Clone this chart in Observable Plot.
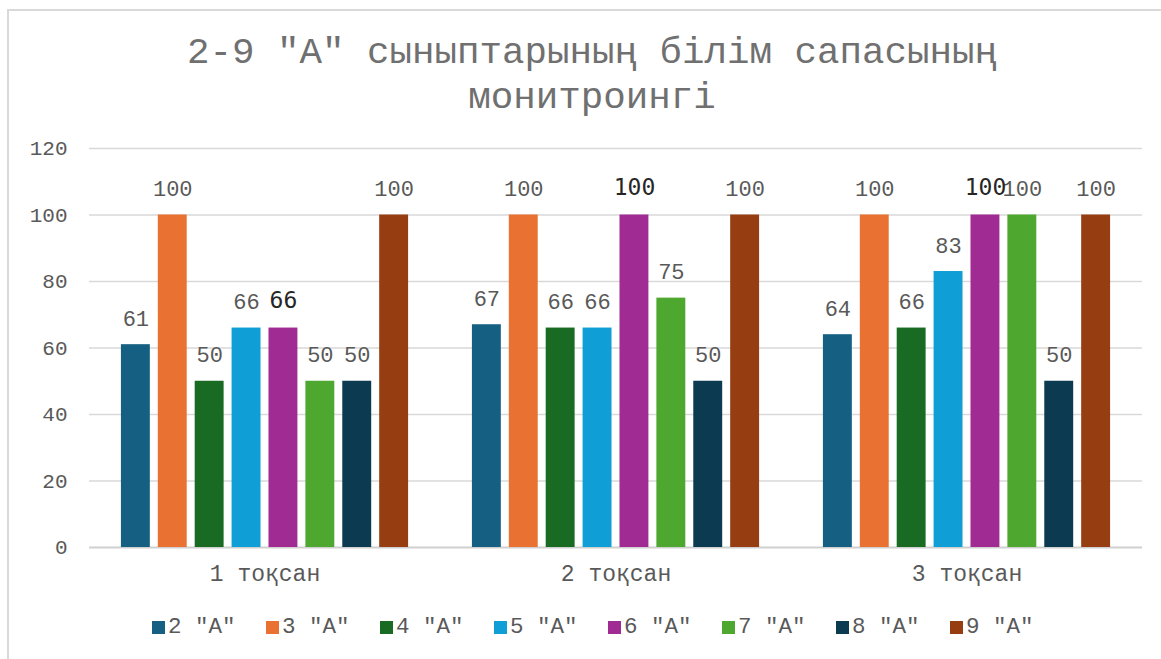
<!DOCTYPE html>
<html>
<head>
<meta charset="utf-8">
<script src="https://cdn.jsdelivr.net/npm/d3@7"></script>
<script src="https://cdn.jsdelivr.net/npm/@observablehq/plot@0.6"></script>
<style>
  html, body { margin: 0; padding: 0; background: #fff; }
  #wrap { position: relative; width: 1161px; height: 659px; overflow: hidden; font-family: "Liberation Mono", "DejaVu Sans Mono", monospace; }
  #border { position: absolute; left: 7px; top: 9px; width: 1200px; height: 700px; border: 2px solid #d9d9d9; box-sizing: border-box; }
  #title { position: absolute; left: 8px; width: 1168px; top: 31px; text-align: center; color: #707070; font-size: 37.5px; line-height: 45px; }
  .layer { position: absolute; left: 0; top: 0; }
  #legend { position: absolute; left: 152px; top: 616px; display: flex; color: #595959; font-size: 22.5px; line-height: 22px; }
  .item { display: flex; align-items: center; width: 114px; white-space: pre; }
  .sw { width: 13px; height: 13px; margin-right: 3px; flex: none; }
</style>
</head>
<body>
<div id="wrap">
  <div id="border"></div>
  <div id="title">2-9 "А" сыныптарының білім сапасының<br>монитроингі</div>
  <div id="grid" class="layer"></div>
  <div id="chart" class="layer"></div>
  <div id="legend"></div>
</div>
<script>
const quarters = ["1 тоқсан", "2 тоқсан", "3 тоқсан"];
const series = ['2 "А"', '3 "А"', '4 "А"', '5 "А"', '6 "А"', '7 "А"', '8 "А"', '9 "А"'];
const colors = ["#156082", "#E97132", "#196B24", "#0F9ED5", "#A02B93", "#4EA72E", "#0C3A50", "#963E11"];
const v2 = [61, 67, 64];
const v3 = [100, 100, 100];
const v4 = [50, 66, 66];
const v5 = [66, 66, 83];
const v6 = [66, 100, 100];
const v7 = [50, 75, 100];
const v8 = [50, 50, 50];
const v9 = [100, 100, 100];
const yTicks = [0, 20, 40, 60, 80, 100, 120];

const valueSets = [v2, v3, v4, v5, v6, v7, v8, v9];
const data = [];
quarters.forEach((q, qi) => {
  series.forEach((s, si) => {
    data.push({quarter: q, series: s, value: valueSets[si][qi]});
  });
});

const special = '6 "А"';
const dims = {width: 1161, height: 610, marginTop: 148, marginBottom: 63, marginLeft: 89, marginRight: 19};
const baseStyle = {fontFamily: '"Liberation Mono", monospace', color: "#595959", background: "transparent", overflow: "visible"};

// Layer 1: gridlines and y axis spanning the whole plot width
const grid = Plot.plot({
  ...dims,
  style: baseStyle,
  x: {domain: quarters, axis: null},
  y: {domain: [0, 120], axis: null},
  marks: [
    Plot.ruleY(yTicks.filter(d => d > 0), {stroke: "#d9d9d9", strokeWidth: 1.5}),
    Plot.ruleY([0], {stroke: "#d0d0d0", strokeWidth: 2}),
    Plot.axisY({ticks: yTicks, tickSize: 0, tickPadding: 22, fontSize: 21, fill: "#595959", label: null})
  ]
});
document.getElementById("grid").appendChild(grid);

// Layer 2: grouped bars
const chart = Plot.plot({
  ...dims,
  style: baseStyle,
  fx: {domain: quarters, paddingInner: 64/352, paddingOuter: 32/352, round: false, label: null},
  x: {domain: series, paddingInner: 8/37, paddingOuter: 0, round: false, axis: null},
  y: {domain: [0, 120], axis: null},
  color: {domain: series, range: colors},
  marks: [
    Plot.barY(data, {fx: "quarter", x: "series", y: "value", fill: "series"}),
    Plot.text(data.filter(d => d.series !== special), {fx: "quarter", x: "series", y: "value", text: d => String(d.value), dy: -26, fontSize: 22, fill: "#595959"}),
    Plot.text(data.filter(d => d.series === special), {fx: "quarter", x: "series", y: "value", text: d => String(d.value), dy: -27, fontSize: 23, fill: "#262626", fontFamily: '"DejaVu Sans Mono", monospace'}),
    Plot.axisFx({anchor: "bottom", tickSize: 0, tickPadding: 17, fontSize: 23, fill: "#595959", label: null})
  ]
});
document.getElementById("chart").appendChild(chart);

const legend = d3.select("#legend");
series.forEach((s, i) => {
  const it = legend.append("div").attr("class", "item");
  it.append("div").attr("class", "sw").style("background", colors[i]);
  it.append("span").text(s);
});
</script>
</body>
</html>
